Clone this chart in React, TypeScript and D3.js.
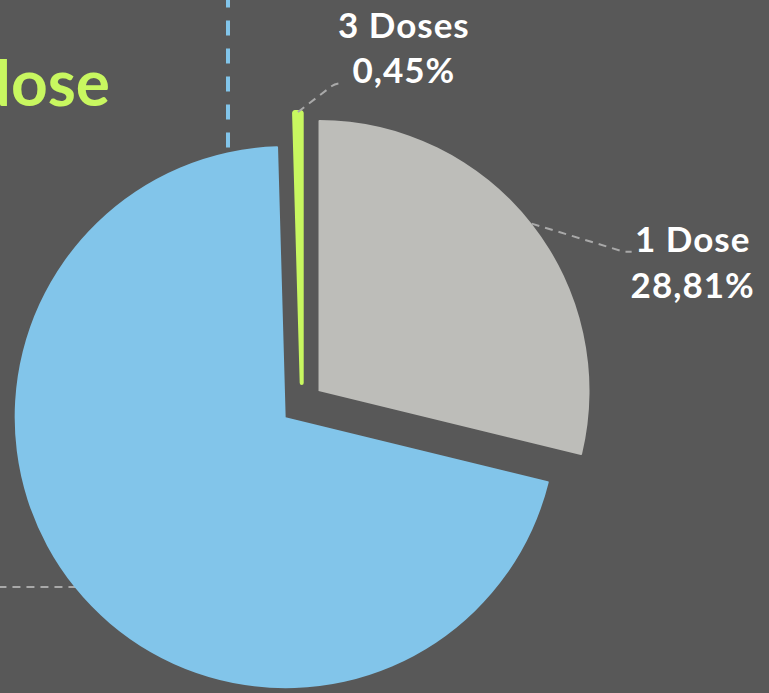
import React from "react";
import * as d3 from "d3";

const categories = ["1 Dose", "2 Doses", "3 Doses"];
const values = [28.81, 70.74, 0.45];
const valueLabels = ["28,81%", "70,74%", "0,45%"];
const colors = ["#bdbdb9", "#82c5ea", "#c8f760"];
const titleText = "dose";

const W = 769;
const H = 693;
const BG = "#585858";

export default function App() {
  const cx = 302;
  const cy = 404;
  const r = 271;
  const explode = 21;

  const pie = d3.pie<number>().sort(null).value((d) => d)(values);
  const arc = d3.arc<d3.PieArcDatum<number>>().innerRadius(0).outerRadius(r).cornerRadius(1);

  const slices = pie.map((p, i) => {
    const mid = (p.startAngle + p.endAngle) / 2;
    const ox = Math.sin(mid) * explode;
    const oy = -Math.cos(mid) * explode;
    const px = cx + ox + Math.sin(mid) * r;
    const py = cy + oy - Math.cos(mid) * r;
    return { p, i, mid, ox, oy, px, py };
  });

  const font = "Lato, 'Open Sans', sans-serif";
  const s0 = slices[0];
  const s1 = slices[1];
  const s2 = slices[2];

  // blue slice arc helpers for its leader lines
  const bcx = cx + s1.ox;
  const bcy = cy + s1.oy;
  const vx = 228;
  const vy = bcy - Math.sqrt(r * r - (bcx - vx) * (bcx - vx)) - 5;
  const hy = 587;
  const hx = bcx - Math.sqrt(r * r - (hy - bcy) * (hy - bcy)) + 2;

  return (
    <div style={{ position: "fixed", left: 0, top: 0, width: W, height: H, background: BG }}>
      <svg width={W} height={H} style={{ display: "block" }}>
        <rect width={W} height={H} fill={BG} />
        <text x={110} y={106} textAnchor="end" fill={colors[2]} fontFamily={font} fontWeight={700} fontSize={64}>
          {titleText}
        </text>
        <line x1={vx} y1={vy} x2={vx} y2={0} stroke={colors[1]} strokeWidth={4} strokeDasharray="15 13" />
        <line x1={hx} y1={hy} x2={0} y2={hy} stroke="#a9a9a9" strokeWidth={2} strokeDasharray="8 6" />
        {slices.map((s) => (
          <path
            key={s.i}
            d={arc(s.p) || ""}
            transform={`translate(${cx + s.ox},${cy + s.oy})`}
            fill={colors[s.i]}
            stroke={s.i === 2 ? colors[s.i] : "none"}
            strokeWidth={s.i === 2 ? 4 : 0}
            strokeLinejoin="round"
          />
        ))}
        {/* 1 Dose leader & label */}
        <polyline
          points={`${s0.px},${s0.py} ${s0.px + 92},${s0.py + 28} ${s0.px + 100},${s0.py + 28}`}
          fill="none"
          stroke="#a9a9a9"
          strokeWidth={2}
          strokeDasharray="8 6"
        />
        <text fill="#fff" fontFamily={font} fontWeight={700} fontSize={35} textAnchor="middle" letterSpacing={1}>
          <tspan x={s0.px + 161} y={s0.py + 28}>{categories[0]}</tspan>
          <tspan x={s0.px + 161} y={s0.py + 74}>{valueLabels[0]}</tspan>
        </text>
        {/* 3 Doses leader & label */}
        <path
          d={`M${s2.px},${s2.py} L${s2.px + 34},${s2.py - 26} Q${s2.px + 38},${s2.py - 29} ${s2.px + 46},${s2.py - 29}`}
          fill="none"
          stroke="#a9a9a9"
          strokeWidth={2}
          strokeDasharray="8 6"
        />
        <text fill="#fff" fontFamily={font} fontWeight={700} fontSize={35} textAnchor="middle" letterSpacing={1}>
          <tspan x={s2.px + 106} y={s2.py - 74}>{categories[2]}</tspan>
          <tspan x={s2.px + 106} y={s2.py - 29}>{valueLabels[2]}</tspan>
        </text>
      </svg>
    </div>
  );
}
